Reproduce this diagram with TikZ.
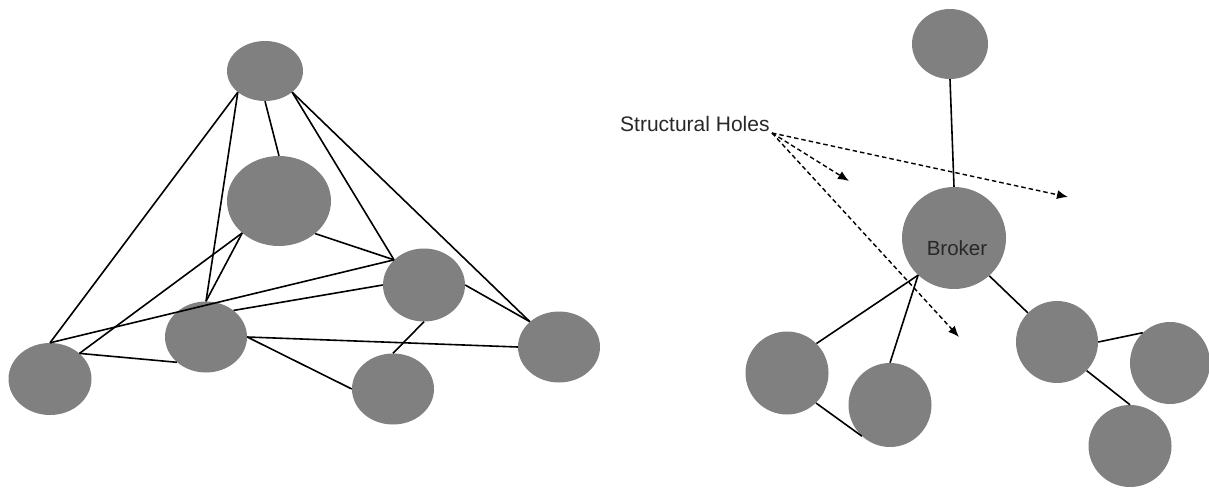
\documentclass[tikz,border=0pt]{standalone}
\usepackage{fontspec}
\setmainfont{Liberation Sans}
\usetikzlibrary{shapes.geometric,arrows.meta}
\definecolor{nodegray}{RGB}{128,128,128}
\definecolor{txt}{RGB}{40,40,40}
\tikzset{
  actor/.style={ellipse, fill=nodegray, draw=none, inner sep=0pt},
  link/.style={line width=1.6pt, black},
  dasharrow/.style={line width=1.4pt, black, dash pattern=on 4.5pt off 3pt, -{Latex[length=11pt,width=9pt]}},
  lbl/.style={font=\fontsize{21}{25}\selectfont, text=txt, inner sep=0pt}
}
\begin{document}
\begin{tikzpicture}[x=1pt,y=-1pt]
\useasboundingbox (0,0) rectangle (1209,487);
% left network
\node[actor, minimum width=76pt, minimum height=60pt] (A) at (265,71) {};
\node[actor, minimum width=104pt, minimum height=90pt] (B) at (279,201) {};
\node[actor, minimum width=82pt, minimum height=73pt] (C) at (424,285) {};
\node[actor, minimum width=82pt, minimum height=71pt] (D) at (206,337) {};
\node[actor, minimum width=83pt, minimum height=72pt] (E) at (50,379) {};
\node[actor, minimum width=82pt, minimum height=71pt] (F) at (393,389) {};
\node[actor, minimum width=82pt, minimum height=71pt] (G) at (559,347) {};
\draw[link] (A.218) -- (E.90);
\draw[link] (A.218) -- (D.90);
\draw[link] (A.270) -- (B.90);
\draw[link] (A.322) -- (C.140);
\draw[link] (A.322) -- (G.139);
\draw[link] (B.318) -- (C.140);
\draw[link] (B.221) -- (D.90);
\draw[link] (B.221) -- (E.41);
\draw[link] (E.90) -- (C.140);
\draw[link] (D.44) -- (C.180);
\draw[link] (E.41) -- (D.221);
\draw[link] (D.0) -- (G.180);
\draw[link] (D.0) -- (F.180);
\draw[link] (C.270) -- (F.90);
\draw[link] (C.0) -- (G.139);
% right network
\node[actor, minimum width=76pt, minimum height=70pt] (T) at (950,44) {};
\node[actor, minimum width=104pt, minimum height=102pt] (K) at (954,238) {};
\node[lbl, font=\fontsize{20.5}{24}\selectfont] (KT) at (957,248) {Broker};
\node[actor, minimum width=83pt, minimum height=83pt] (L1) at (787,373) {};
\node[actor, minimum width=83pt, minimum height=84pt] (L2) at (890,405) {};
\node[actor, minimum width=82pt, minimum height=82pt] (R1) at (1057,342) {};
\node[actor, minimum width=80pt, minimum height=82pt] (R2) at (1170,363) {};
\node[actor, minimum width=83pt, minimum height=82pt] (R3) at (1130,446) {};
\draw[link] (T.270) -- (K.90);
\draw[link] (K.226) -- (L1.45);
\draw[link] (K.226) -- (L2.90);
\draw[link] (L1.314) -- (L2.228);
\draw[link] (K.313) -- (R1.135);
\draw[link] (R1.0) -- (R2.132);
\draw[link] (R1.316) -- (R3.90);
% structural holes
\node[lbl, anchor=base west] (SH) at (620,131) {Structural Holes};
\coordinate (sh) at (772,133);
\coordinate (h1) at (849,181);
\coordinate (h2) at (1068,197);
\coordinate (h3) at (959,337);
\draw[dasharrow] (sh) -- (h1);
\draw[dasharrow] (sh) -- (h2);
\draw[dasharrow] (sh) -- (h3);
\end{tikzpicture}
\end{document}
